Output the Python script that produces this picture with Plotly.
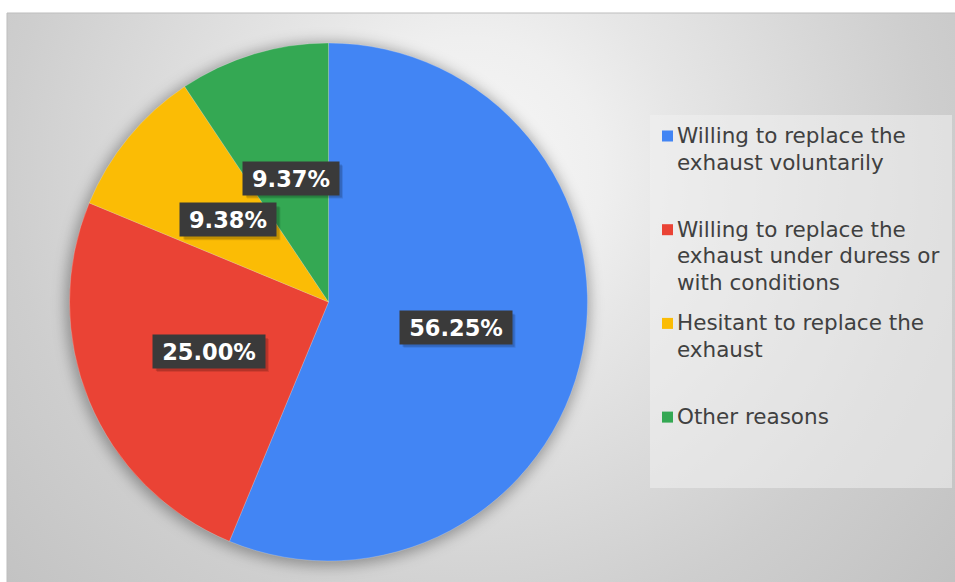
import base64
import math
import textwrap
import plotly.graph_objects as go

# ---------------- data ----------------
categories = [
    "Willing to replace the exhaust voluntarily",
    "Willing to replace the exhaust under duress or with conditions",
    "Hesitant to replace the exhaust",
    "Other reasons",
]
shares = [56.25, 25.00, 9.38, 9.37]
colors = ["#4285F4", "#EA4335", "#FBBC05", "#34A853"]

# ---------------- layout constants (pixels) ----------------
W, H = 955, 582
CX, CY, R = 328.5, 302.0, 259.0          # pie centre / radius
AREA = (7, 13, W + 1, H + 1)              # chart area rectangle

def px(x):
    return x / W

def py(y):
    return 1 - y / H

# background: radial gradient + soft pie shadow, as an SVG image
svg = f"""<svg xmlns='http://www.w3.org/2000/svg' width='{W}' height='{H}' viewBox='0 0 {W} {H}' preserveAspectRatio='none'>
<defs>
<radialGradient id='g' gradientUnits='userSpaceOnUse' cx='470' cy='170' r='660'>
<stop offset='0' stop-color='#f7f7f7'/>
<stop offset='0.2' stop-color='#efefef'/>
<stop offset='0.32' stop-color='#e6e6e6'/>
<stop offset='0.7' stop-color='#cecece'/>
<stop offset='1' stop-color='#c0c0c0'/>
</radialGradient>
<filter id='b' x='-20%' y='-20%' width='140%' height='140%'><feGaussianBlur stdDeviation='7'/></filter>
</defs>
<rect x='0' y='0' width='{W}' height='{H}' fill='#ffffff'/>
<rect x='{AREA[0]}' y='{AREA[1]}' width='{AREA[2]-AREA[0]}' height='{AREA[3]-AREA[1]}' fill='url(#g)'/>
<circle cx='{CX - 1}' cy='{CY + 2}' r='{R + 3}' fill='#000' fill-opacity='0.32' filter='url(#b)'/>
</svg>"""
bg_uri = "data:image/svg+xml;base64," + base64.b64encode(svg.encode()).decode()

fig = go.Figure()
fig.add_trace(go.Pie(
    labels=categories,
    values=shares,
    marker=dict(colors=colors, line=dict(color="rgba(255,255,255,0.35)", width=0.6)),
    sort=False,
    direction="clockwise",
    rotation=0,
    textinfo="none",
    hoverinfo="label+percent",
    showlegend=False,
    domain=dict(x=[px(CX - R), px(CX + R)], y=[py(CY + R), py(CY - R)]),
))

shapes = [
    # chart-area border
    dict(type="rect", xref="paper", yref="paper", x0=px(AREA[0]), x1=px(AREA[2]),
         y0=py(AREA[3]), y1=py(AREA[1]), line=dict(color="#bdbdbd", width=1),
         fillcolor="rgba(0,0,0,0)", layer="below"),
    # legend box
    dict(type="rect", xref="paper", yref="paper", x0=px(650), x1=px(952),
         y0=py(488), y1=py(115), line=dict(width=0),
         fillcolor="rgba(240,240,240,0.55)", layer="below"),
]

annotations = []

# data labels at half radius on mid-angle of each slice
BH = 33
total = sum(shares)
cum = 0.0
for v in shares:
    theta = 2 * math.pi * (cum + v / 2) / total
    cum += v
    lx = CX + 0.5 * R * math.sin(theta)
    ly = CY - 0.5 * R * math.cos(theta)
    txt = f"{v:.2f}%"
    bw = 16 * len(txt) + 16
    # soft drop shadow of the label box
    for k, a in ((4, 0.10), (3, 0.14)):
        shapes.append(dict(type="rect", xref="paper", yref="paper", layer="above",
                           x0=px(lx - bw / 2 + k), x1=px(lx + bw / 2 + k),
                           y0=py(ly + BH / 2 + k), y1=py(ly - BH / 2 + k),
                           fillcolor=f"rgba(0,0,0,{a})", line=dict(width=0)))
    annotations.append(dict(
        x=px(lx), y=py(ly), xref="paper", yref="paper", text=f"<b>{txt}</b>", showarrow=False,
        xanchor="center", yanchor="middle",
        width=bw, height=BH, borderpad=0, bgcolor="#3a3a3a",
        font=dict(size=22.5, color="#ffffff", family="DejaVu Sans"),
    ))

# custom legend
LEG_X, LEG_Y0, LEG_STEP, LINE_STEP = 662, 135.5, 93.7, 26.5
for i, (name, col) in enumerate(zip(categories, colors)):
    y0 = LEG_Y0 + i * LEG_STEP
    shapes.append(dict(type="rect", xref="paper", yref="paper",
                       x0=px(LEG_X), x1=px(LEG_X + 11), y0=py(y0 + 6), y1=py(y0 - 5),
                       fillcolor=col, line=dict(width=0)))
    for j, line in enumerate(textwrap.wrap(name, 23)):
        annotations.append(dict(
            x=px(LEG_X + 13), y=py(y0 + j * LINE_STEP), xref="paper", yref="paper",
            text=line, showarrow=False, xanchor="left", yanchor="middle",
            font=dict(size=21.5, color="#404040", family="DejaVu Sans"),
        ))

fig.update_layout(
    width=W, height=H,
    margin=dict(l=0, r=0, t=0, b=0),
    paper_bgcolor="#ffffff",
    images=[dict(source=bg_uri, xref="paper", yref="paper", x=0, y=1, sizex=1, sizey=1,
                 xanchor="left", yanchor="top", sizing="stretch", layer="below")],
    shapes=shapes,
    annotations=annotations,
)

fig.write_html(
    "out.html",
    config={"displayModeBar": False},
    post_script="document.body.style.margin='0';document.body.style.overflow='hidden';",
)
